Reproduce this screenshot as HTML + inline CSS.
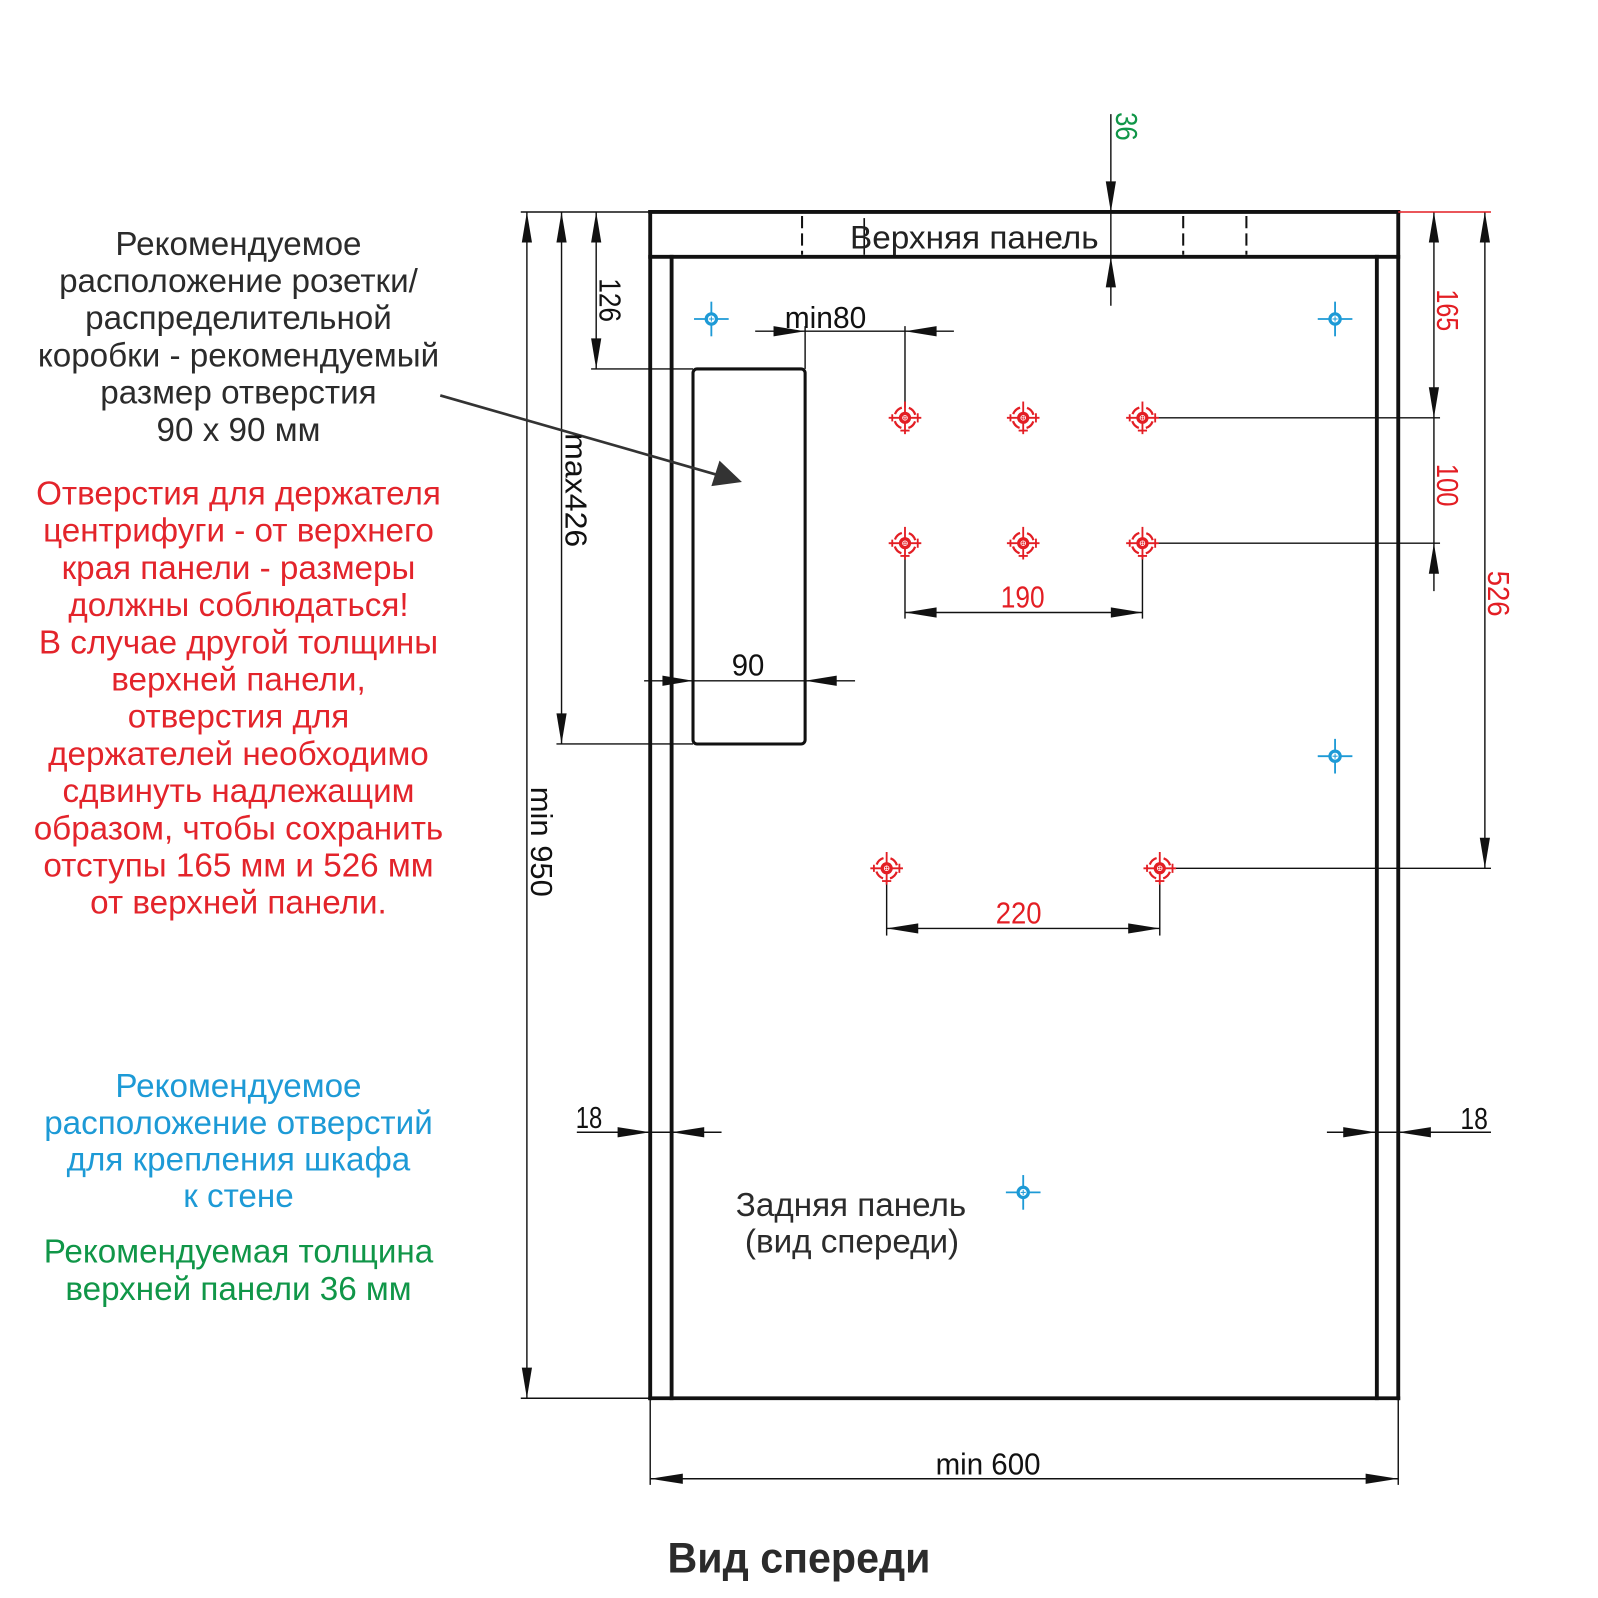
<!DOCTYPE html>
<html>
<head>
<meta charset="utf-8">
<style>
  html,body{margin:0;padding:0;background:#fff;}
  svg{display:block;}
  .t{font-family:"Liberation Sans",Arial,sans-serif;}
  .d{font-family:"Liberation Sans Narrow","Liberation Sans",Arial,sans-serif;font-size:30px;}
</style>
</head>
<body>
<svg width="1598" height="1598" viewBox="0 0 1568 1568" xmlns="http://www.w3.org/2000/svg">
  <defs>
    <g id="rh">
      <circle r="10.5" fill="none" stroke="#e31e24" stroke-width="2.2" stroke-dasharray="9.5 7" stroke-dashoffset="13"/>
      <line x1="-16" y1="0" x2="16" y2="0" stroke="#e31e24" stroke-width="1.8"/>
      <line x1="0" y1="-16" x2="0" y2="16" stroke="#e31e24" stroke-width="1.8"/>
      <line x1="12.5" y1="-4.5" x2="12.5" y2="4.5" stroke="#e31e24" stroke-width="1.8"/>
      <line x1="-12.5" y1="-3.5" x2="-12.5" y2="3.5" stroke="#e31e24" stroke-width="1.8"/>
      <line x1="-4.5" y1="12.5" x2="4.5" y2="12.5" stroke="#e31e24" stroke-width="1.8"/>
      <circle r="6" fill="#e31e24"/>
      <circle r="2.3" fill="none" stroke="#fff" stroke-width="0.8"/>
      <line x1="-2.5" y1="0" x2="2.5" y2="0" stroke="#fff" stroke-width="0.6"/>
      <line x1="0" y1="-2.5" x2="0" y2="2.5" stroke="#fff" stroke-width="0.6"/>
    </g>
    <g id="bh">
      <line x1="-17" y1="0" x2="17" y2="0" stroke="#1d9ad6" stroke-width="1.8"/>
      <line x1="0" y1="-17" x2="0" y2="17" stroke="#1d9ad6" stroke-width="1.8"/>
      <circle r="5" fill="#fff" stroke="#1d9ad6" stroke-width="3.2"/>
      <line x1="-2.5" y1="0" x2="2.5" y2="0" stroke="#1d9ad6" stroke-width="1"/>
      <line x1="0" y1="-2.5" x2="0" y2="2.5" stroke="#1d9ad6" stroke-width="1"/>
    </g>
  </defs>

  <!-- ============ FRAME ============ -->
  <g stroke="#111" stroke-width="3.8" fill="none" stroke-linecap="square">
    <line x1="638" y1="208" x2="1372" y2="208"/>
    <line x1="638" y1="252" x2="1372" y2="252"/>
    <line x1="638" y1="208" x2="638" y2="1372"/>
    <line x1="1372" y1="208" x2="1372" y2="1372"/>
    <line x1="659" y1="252" x2="659" y2="1372"/>
    <line x1="1351" y1="252" x2="1351" y2="1372"/>
    <line x1="638" y1="1372" x2="1372" y2="1372"/>
  </g>
  <!-- dashed lines in top panel -->
  <g stroke="#111" stroke-width="2" stroke-dasharray="12 5">
    <line x1="787" y1="212" x2="787" y2="250"/>
    <line x1="1161" y1="212" x2="1161" y2="250"/>
    <line x1="1223" y1="212" x2="1223" y2="250"/>
  </g>
  <line x1="848" y1="214" x2="848" y2="250" stroke="#111" stroke-width="1.6"/>

  <!-- socket box -->
  <rect x="680" y="362" width="110" height="368" rx="4" ry="4" fill="none" stroke="#111" stroke-width="3"/>

  <!-- ============ DIMENSION LINES ============ -->
  <g stroke="#111" stroke-width="1.4" fill="none">
    <line x1="511" y1="208" x2="638" y2="208"/>
    <line x1="517" y1="208" x2="517" y2="1372"/>
    <line x1="551" y1="208" x2="551" y2="730"/>
    <line x1="585" y1="208" x2="585" y2="362"/>
    <line x1="580" y1="362" x2="680" y2="362"/>
    <line x1="546" y1="730" x2="680" y2="730"/>
    <line x1="511" y1="1372" x2="638" y2="1372"/>
    <line x1="1090" y1="112" x2="1090" y2="300"/>
    <line x1="1407" y1="208" x2="1407" y2="580"/>
    <line x1="1457" y1="208" x2="1457" y2="852"/>
    <line x1="1133" y1="410" x2="1413" y2="410"/>
    <line x1="1133" y1="533" x2="1413" y2="533"/>
    <line x1="1150" y1="852" x2="1463" y2="852"/>
    <line x1="741" y1="325" x2="936" y2="325"/>
    <line x1="790" y1="320" x2="790" y2="362"/>
    <line x1="888" y1="320" x2="888" y2="400"/>
    <line x1="632" y1="668" x2="839" y2="668"/>
    <line x1="888" y1="601" x2="1121" y2="601"/>
    <line x1="888" y1="545" x2="888" y2="607"/>
    <line x1="1121" y1="545" x2="1121" y2="607"/>
    <line x1="870" y1="911" x2="1138" y2="911"/>
    <line x1="870" y1="864" x2="870" y2="918"/>
    <line x1="1138" y1="864" x2="1138" y2="918"/>
    <line x1="566" y1="1111" x2="708" y2="1111"/>
    <line x1="1302" y1="1111" x2="1463" y2="1111"/>
    <line x1="638" y1="1451" x2="1372" y2="1451"/>
    <line x1="638" y1="1372" x2="638" y2="1457"/>
    <line x1="1372" y1="1372" x2="1372" y2="1457"/>
  </g>
  <line x1="1372" y1="208" x2="1463" y2="208" stroke="#e31e24" stroke-width="1.4"/>

  <!-- arrowheads -->
  <g fill="#111">
    <polygon points="517,208 512,238 522,238"/>
    <polygon points="517,1372 512,1342 522,1342"/>
    <polygon points="551,208 546,238 556,238"/>
    <polygon points="551,730 546,700 556,700"/>
    <polygon points="585,208 580,238 590,238"/>
    <polygon points="585,362 580,332 590,332"/>
    <polygon points="1090,208 1085,178 1095,178"/>
    <polygon points="1090,252 1085,282 1095,282"/>
    <polygon points="1407,208 1402,238 1412,238"/>
    <polygon points="1407,410 1402,380 1412,380"/>
    <polygon points="1407,533 1402,563 1412,563"/>
    <polygon points="1457,208 1452,238 1462,238"/>
    <polygon points="1457,852 1452,822 1462,822"/>
    <polygon points="790,325 759,320 759,330"/>
    <polygon points="888,325 919,320 919,330"/>
    <polygon points="680,668 650,663 650,673"/>
    <polygon points="790,668 821,663 821,673"/>
    <polygon points="888,601 919,596 919,606"/>
    <polygon points="1121,601 1090,596 1090,606"/>
    <polygon points="870,911 901,906 901,916"/>
    <polygon points="1138,911 1107,906 1107,916"/>
    <polygon points="638,1111 606,1106 606,1116"/>
    <polygon points="659,1111 691,1106 691,1116"/>
    <polygon points="1350,1111 1318,1106 1318,1116"/>
    <polygon points="1372,1111 1404,1106 1404,1116"/>
    <polygon points="638,1451 670,1446 670,1456"/>
    <polygon points="1372,1451 1340,1446 1340,1456"/>
  </g>

  <!-- leader arrow -->
  <line x1="432" y1="388" x2="704" y2="466" stroke="#333" stroke-width="2.6"/>
  <polygon points="728,473 698,477 706,452" fill="#333"/>

  <!-- ============ HOLES ============ -->
  <use href="#rh" x="888" y="410"/>
  <use href="#rh" x="1004" y="410"/>
  <use href="#rh" x="1121" y="410"/>
  <use href="#rh" x="888" y="533"/>
  <use href="#rh" x="1004" y="533"/>
  <use href="#rh" x="1121" y="533"/>
  <use href="#rh" x="870" y="852"/>
  <use href="#rh" x="1138" y="852"/>

  <use href="#bh" x="698" y="313"/>
  <use href="#bh" x="1310" y="313"/>
  <use href="#bh" x="1310" y="742"/>
  <use href="#bh" x="1004" y="1170"/>

  <!-- ============ DIMENSION TEXT ============ -->
  <g class="d" fill="#111">
    <text x="770" y="322" textLength="80" lengthAdjust="spacingAndGlyphs">min80</text>
    <text x="718" y="663" textLength="32" lengthAdjust="spacingAndGlyphs">90</text>
    <text x="565" y="1107" textLength="26" lengthAdjust="spacingAndGlyphs">18</text>
    <text x="1433" y="1108" textLength="27" lengthAdjust="spacingAndGlyphs">18</text>
    <text x="918" y="1447" textLength="103" lengthAdjust="spacingAndGlyphs">min 600</text>
    <text transform="translate(588,273) rotate(90)" textLength="43" lengthAdjust="spacingAndGlyphs">126</text>
    <text transform="translate(555,425) rotate(90)" textLength="112" lengthAdjust="spacingAndGlyphs">max426</text>
    <text transform="translate(521,772) rotate(90)" textLength="108" lengthAdjust="spacingAndGlyphs">min 950</text>
  </g>
  <g class="d" fill="#e31e24">
    <text x="982" y="596" textLength="43" lengthAdjust="spacingAndGlyphs">190</text>
    <text x="977" y="906" textLength="45" lengthAdjust="spacingAndGlyphs">220</text>
    <text transform="translate(1410,284) rotate(90)" textLength="41" lengthAdjust="spacingAndGlyphs">165</text>
    <text transform="translate(1410,455) rotate(90)" textLength="42" lengthAdjust="spacingAndGlyphs">100</text>
    <text transform="translate(1460,560) rotate(90)" textLength="45" lengthAdjust="spacingAndGlyphs">526</text>
  </g>
  <text class="d" fill="#109648" transform="translate(1095,110) rotate(90)" textLength="28" lengthAdjust="spacingAndGlyphs">36</text>

  <!-- ============ LABELS ============ -->
  <text class="t" x="834" y="244" font-size="32" fill="#222" textLength="244" lengthAdjust="spacingAndGlyphs">Верхняя панель</text>

  <g class="t" font-size="32.6" fill="#2b2b2b" text-anchor="middle">
    <text x="835" y="1193">Задняя панель</text>
    <text x="836" y="1229">(вид спереди)</text>
  </g>

  <g class="t" font-size="32.6" fill="#2b2b2b" text-anchor="middle">
    <text x="234" y="250">Рекомендуемое</text>
    <text x="234" y="286.5">расположение розетки/</text>
    <text x="234" y="323">распределительной</text>
    <text x="234" y="359.5">коробки - рекомендуемый</text>
    <text x="234" y="396">размер отверстия</text>
    <text x="234" y="432.5">90 х 90 мм</text>
  </g>

  <g class="t" font-size="32.6" fill="#e3242b" text-anchor="middle">
    <text x="234" y="495">Отверстия для держателя</text>
    <text x="234" y="531.5">центрифуги - от верхнего</text>
    <text x="234" y="568">края панели - размеры</text>
    <text x="234" y="604.5">должны соблюдаться!</text>
    <text x="234" y="641">В случае другой толщины</text>
    <text x="234" y="677.5">верхней панели,</text>
    <text x="234" y="714">отверстия для</text>
    <text x="234" y="750.5">держателей необходимо</text>
    <text x="234" y="787">сдвинуть надлежащим</text>
    <text x="234" y="823.5">образом, чтобы сохранить</text>
    <text x="234" y="860">отступы 165 мм и 526 мм</text>
    <text x="234" y="896.5">от верхней панели.</text>
  </g>

  <g class="t" font-size="32.6" fill="#1d9ad6" text-anchor="middle">
    <text x="234" y="1076.5">Рекомендуемое</text>
    <text x="234" y="1112.5">расположение отверстий</text>
    <text x="234" y="1148.5">для крепления шкафа</text>
    <text x="234" y="1184.5">к стене</text>
  </g>

  <g class="t" font-size="32.6" fill="#109648" text-anchor="middle">
    <text x="234" y="1239">Рекомендуемая толщина</text>
    <text x="234" y="1275.5">верхней панели 36 мм</text>
  </g>

  <text class="t" x="784" y="1543" font-size="42" font-weight="bold" fill="#2b2b2b" text-anchor="middle" textLength="258" lengthAdjust="spacingAndGlyphs">Вид спереди</text>
</svg>
</body>
</html>
